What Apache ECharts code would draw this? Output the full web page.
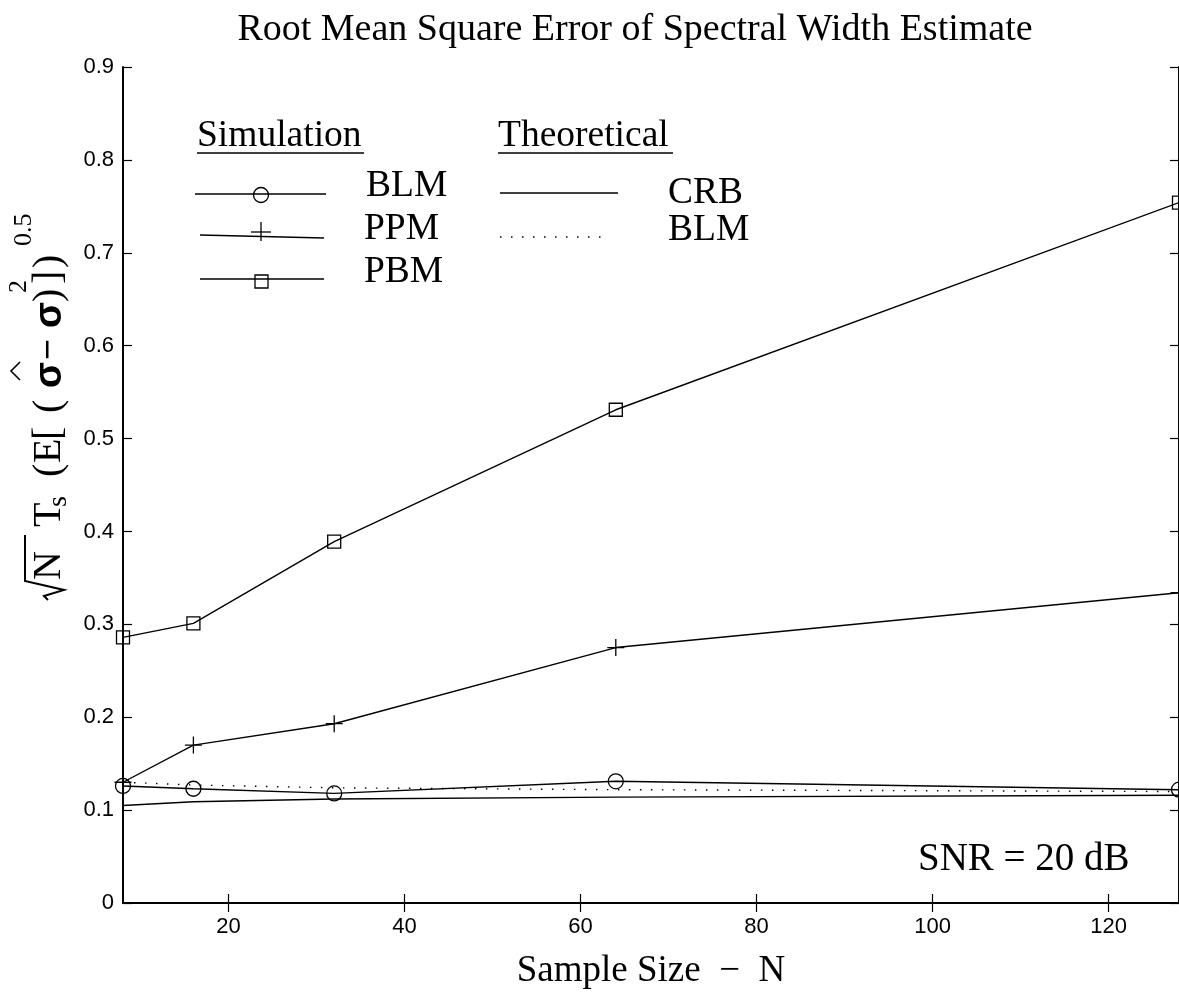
<!DOCTYPE html>
<html>
<head>
<meta charset="utf-8">
<script src="https://cdn.jsdelivr.net/npm/echarts@6/dist/echarts.min.js"></script>
<style>
  html, body { margin: 0; padding: 0; background: #fff; }
  #chart { width: 1179px; height: 998px; }
</style>
</head>
<body>
<div id="chart"></div>
<script>
// Sample sizes on the x axis
const sampleSizes = [8, 16, 32, 64, 128];
// Simulated RMS error (normalised) for each estimator
const blmSim = [0.126, 0.123, 0.118, 0.131, 0.122];
const ppmSim = [0.130, 0.170, 0.193, 0.275, 0.334];
const pbmSim = [0.286, 0.301, 0.389, 0.531, 0.754];
// Theoretical curves
const crbTheory = [0.105, 0.109, 0.112, 0.114, 0.116];
const blmTheory = [0.130, 0.127, 0.124, 0.122, 0.120];
// Tick positions
const xTicks = [20, 40, 60, 80, 100, 120];

const SERIF = '"Liberation Serif", "Times New Roman", serif';
const SANS = '"Liberation Sans", Arial, sans-serif';

function pairs(xs, ys) { return xs.map((x, i) => [x, ys[i]]); }

const chart = echarts.init(document.getElementById('chart'), null, { renderer: 'canvas' });

const markerStyle = { color: 'rgba(0,0,0,0)', borderColor: '#000', borderWidth: 1.3 };
const lineBase = { color: '#000', width: 1.4 };
const PLUS = 'path://M8,0L8,16M0,8L16,8';
const DOTS = [1.5, 9.5];

// ---- legend (drawn as graphics) ----
function txt(x, y, t, size, family, align) {
  return { type: 'text', x: x, y: y, silent: true,
    style: { text: t, fontSize: size, fontFamily: family || SERIF, fill: '#000',
             align: align || 'left', verticalAlign: 'middle' } };
}
function seg(x1, y1, x2, y2, w, dash) {
  return { type: 'line', silent: true,
    shape: { x1: x1, y1: y1, x2: x2, y2: y2 },
    style: { stroke: '#000', lineWidth: w || 1.4, lineDash: dash || null } };
}

const LF = 37.5;
const legendG = [
  txt(197, 136, 'Simulation', LF),
  seg(197, 153, 364, 153, 1.3),
  txt(498, 136, 'Theoretical', LF),
  seg(498, 153, 673, 153, 1.3),
  // BLM (simulation)
  seg(195, 194, 326, 194),
  { type: 'circle', silent: true, shape: { cx: 261, cy: 195, r: 7.5 },
    style: { fill: 'none', stroke: '#000', lineWidth: 1.3 } },
  txt(366, 186, 'BLM', LF),
  // PPM
  seg(200, 235, 324, 238),
  seg(261, 222, 261, 241, 1.3),
  seg(251, 232, 271, 232, 1.3),
  txt(364, 229, 'PPM', LF),
  // PBM
  seg(200, 279, 324, 279),
  { type: 'rect', silent: true, shape: { x: 255, y: 275, width: 13, height: 13 },
    style: { fill: 'none', stroke: '#000', lineWidth: 1.3 } },
  txt(364, 272, 'PBM', LF),
  // theoretical
  seg(500, 193, 618, 193),
  txt(668, 193, 'CRB', LF),
  seg(500, 237, 610, 237, 1.5, DOTS),
  txt(668, 230, 'BLM', LF),
  // annotation
  txt(918, 860, 'SNR = 20 dB', 39)
];

// ---- rotated y-axis title: sqrt(N) T_s (E[(sigma_hat - sigma)^2])^0.5 ----
const B = 62; // baseline (screen x) of the rotated title
function rt(t, yStart, baseX, size, family, weight) {
  return { type: 'text', silent: true, x: baseX - 0.305 * size, y: yStart, rotation: Math.PI / 2,
    style: { text: t, fontSize: size, fontFamily: family || SERIF, fontWeight: weight || 'normal',
             fill: '#000', align: 'left', verticalAlign: 'middle' } };
}
const yTitleG = [
  { type: 'polyline', silent: true,
    shape: { points: [[B - 14, 600], [B - 18, 596], [B + 2, 590], [B - 37, 581], [B - 37, 535]] },
    style: { stroke: '#000', lineWidth: 2, fill: null } },
  rt('N', 580, B, 40),
  rt('T', 527, B, 40),
  rt('s', 507, B + 5, 28),
  rt('(', 477, B, 40),
  rt('E', 463, B, 40),
  rt('[', 440, B, 40),
  rt('(', 413, B, 40),
  rt('σ', 388, B, 38, SANS, 'bold'),
  { type: 'polyline', silent: true,
    shape: { points: [[B - 42, 380], [B - 51, 371], [B - 42, 362]] },
    style: { stroke: '#000', lineWidth: 1.6, fill: null } },
  rt('−', 360, B - 2, 36, SANS),
  rt('σ', 328, B, 38, SANS, 'bold'),
  rt(')', 302, B, 40),
  rt('2', 293, B - 35, 26),
  rt(']', 284, B, 40),
  rt(')', 268, B, 40),
  rt('0.5', 246, B - 30, 26)
];

const option = {
  animation: false,
  backgroundColor: '#fff',
  title: {
    text: 'Root Mean Square Error of Spectral Width Estimate',
    left: 630, top: 6, textAlign: 'center', padding: 5,
    textStyle: { fontFamily: SERIF, fontSize: 38, fontWeight: 'normal', color: '#000' }
  },
  grid: { left: 123, top: 67, width: 1058, height: 836, containLabel: false },
  xAxis: [
    {
      type: 'value', min: 8, max: 128, position: 'bottom',
      name: 'Sample Size  −  N', nameLocation: 'middle', nameGap: 50,
      nameTextStyle: { fontFamily: SERIF, fontSize: 37, color: '#000' },
      axisLine: { show: true, lineStyle: { color: '#000', width: 2 } },
      axisTick: { show: true, inside: true, length: 9, customValues: xTicks,
                  lineStyle: { color: '#000', width: 1.2 } },
      axisLabel: { show: true, customValues: xTicks, margin: 13, color: '#000',
                   fontFamily: SANS, fontSize: 22 },
      splitLine: { show: false }
    },
    {
      type: 'value', min: 8, max: 128, position: 'top',
      axisLine: { show: true, lineStyle: { color: '#000', width: 2 } },
      axisTick: { show: true, inside: true, length: 9, customValues: xTicks,
                  lineStyle: { color: '#000', width: 1.2 } },
      axisLabel: { show: false },
      splitLine: { show: false }
    }
  ],
  yAxis: [
    {
      type: 'value', min: 0, max: 0.9, interval: 0.1, position: 'left',
      axisLine: { show: true, lineStyle: { color: '#000', width: 2 } },
      axisTick: { show: true, inside: true, length: 9, lineStyle: { color: '#000', width: 1.2 } },
      axisLabel: { show: true, margin: 9, color: '#000', fontFamily: SANS, fontSize: 22,
                   formatter: v => (v === 0 ? '0' : v.toFixed(1)) },
      splitLine: { show: false }
    },
    {
      type: 'value', min: 0, max: 0.9, interval: 0.1, position: 'right',
      axisLine: { show: true, lineStyle: { color: '#000', width: 2 } },
      axisTick: { show: true, inside: true, length: 9, lineStyle: { color: '#000', width: 1.2 } },
      axisLabel: { show: false },
      splitLine: { show: false }
    }
  ],
  series: [
    { name: 'BLM (sim)', type: 'line', data: pairs(sampleSizes, blmSim), clip: false,
      symbol: 'circle', symbolSize: 15, itemStyle: markerStyle, lineStyle: lineBase,
      emphasis: { disabled: true } },
    { name: 'PPM', type: 'line', data: pairs(sampleSizes, ppmSim), clip: false,
      symbol: PLUS, symbolSize: 17, itemStyle: markerStyle, lineStyle: lineBase,
      emphasis: { disabled: true } },
    { name: 'PBM', type: 'line', data: pairs(sampleSizes, pbmSim), clip: false,
      symbol: 'rect', symbolSize: 13, itemStyle: markerStyle, lineStyle: lineBase,
      emphasis: { disabled: true } },
    { name: 'CRB', type: 'line', data: pairs(sampleSizes, crbTheory), showSymbol: false,
      symbol: 'none', lineStyle: lineBase, emphasis: { disabled: true } },
    { name: 'BLM (theory)', type: 'line', data: pairs(sampleSizes, blmTheory), showSymbol: false,
      symbol: 'none', lineStyle: { color: '#000', width: 1.4, type: DOTS },
      emphasis: { disabled: true } }
  ],
  graphic: { elements: legendG.concat(yTitleG) }
};

chart.setOption(option);
</script>
</body>
</html>
